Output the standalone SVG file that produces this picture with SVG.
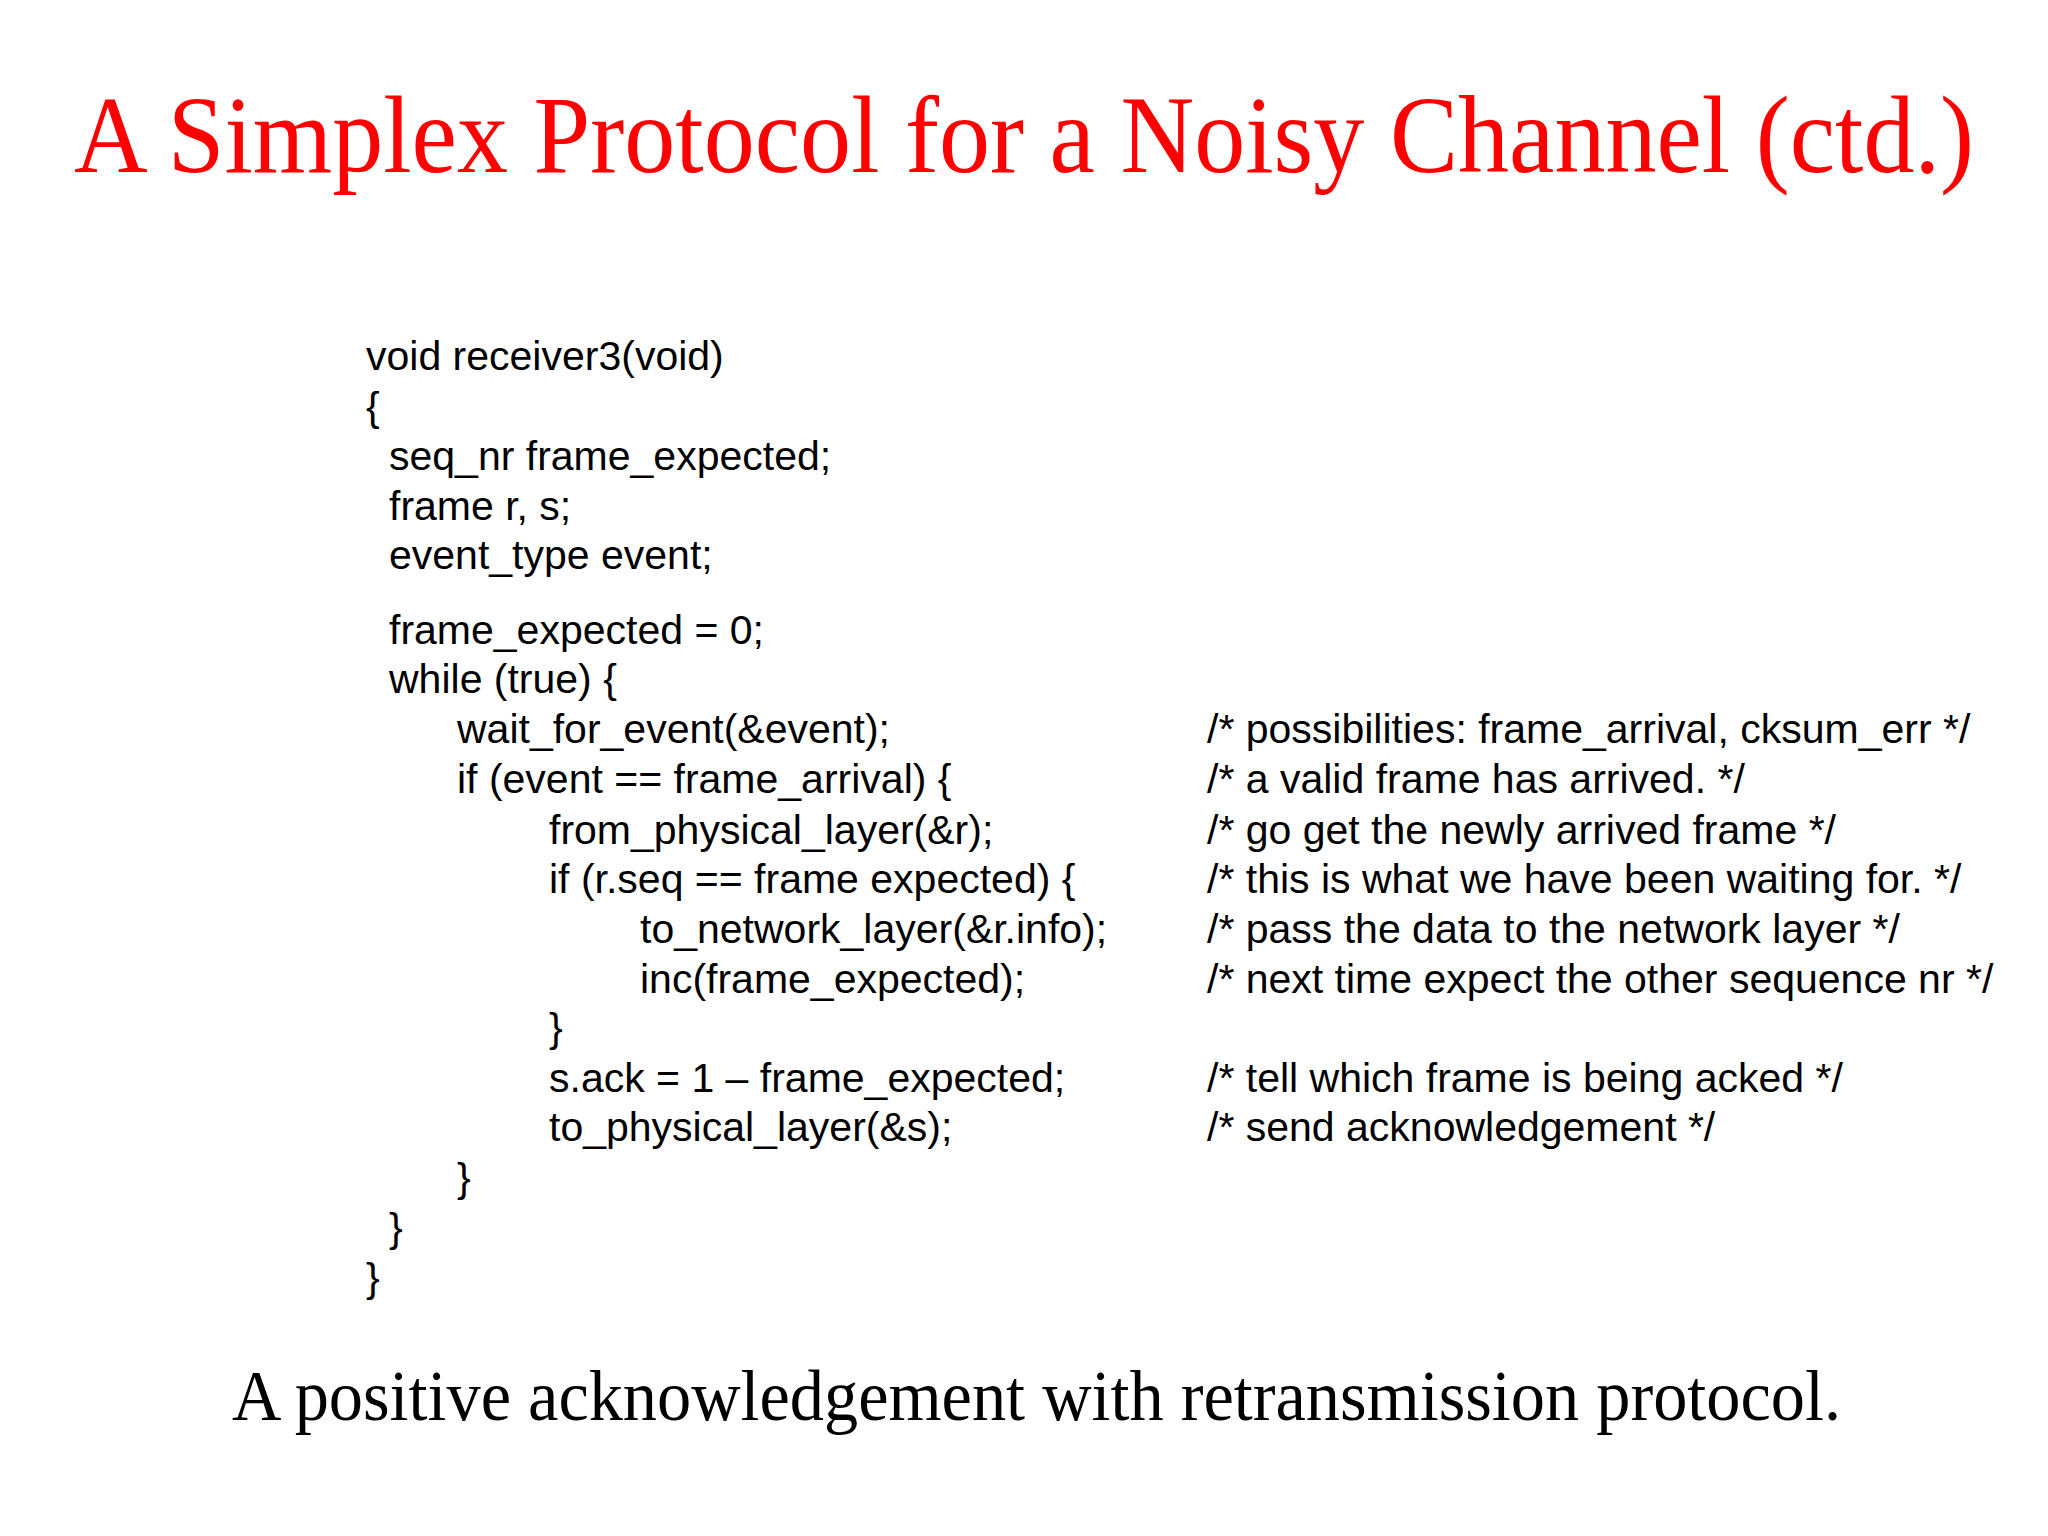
<svg xmlns="http://www.w3.org/2000/svg" width="2048" height="1536" viewBox="0 0 2048 1536">
<style>
.t{font-family:"Liberation Serif","Times New Roman",serif;fill:#ff0000}
.c{font-family:"Liberation Sans",Arial,sans-serif;font-size:41px;fill:#000;white-space:pre}
.cap{font-family:"Liberation Serif","Times New Roman",serif;fill:#000}
</style>
<rect width="2048" height="1536" fill="#fff"/>
<text class="t" x="74" y="172" font-size="110" textLength="1900" lengthAdjust="spacingAndGlyphs">A Simplex Protocol for a Noisy Channel (ctd.)</text>
<g id="code" class="c" xml:space="preserve">
<text x="366" y="370">void receiver3(void)</text>
<text x="366" y="421">{</text>
<text x="389" y="470">seq_nr frame_expected;</text>
<text x="389" y="520">frame r, s;</text>
<text x="389" y="569">event_type event;</text>
<text x="389" y="644">frame_expected = 0;</text>
<text x="389" y="693">while (true) {</text>
<text x="457" y="743">wait_for_event(&amp;event);</text>
<text x="457" y="793">if (event == frame_arrival) {</text>
<text x="549" y="844">from_physical_layer(&amp;r);</text>
<text x="549" y="893">if (r.seq == frame  expected) {</text>
<text x="640" y="943">to_network_layer(&amp;r.info);</text>
<text x="640" y="993">inc(frame_expected);</text>
<text x="549" y="1042">}</text>
<text x="549" y="1092">s.ack = 1 – frame_expected;</text>
<text x="549" y="1141">to_physical_layer(&amp;s);</text>
<text x="457" y="1192">}</text>
<text x="389" y="1242">}</text>
<text x="366" y="1292">}</text>
</g>
<g id="comments" class="c">
<text x="1207" y="743">/* possibilities: frame_arrival, cksum_err */</text>
<text x="1207" y="793">/* a valid frame has arrived. */</text>
<text x="1207" y="844">/* go get the newly arrived frame */</text>
<text x="1207" y="893">/* this is what we have been waiting for. */</text>
<text x="1207" y="943">/* pass the data to the network layer */</text>
<text x="1207" y="993">/* next time expect the other sequence nr */</text>
<text x="1207" y="1092">/* tell which frame is being acked */</text>
<text x="1207" y="1141">/* send acknowledgement */</text>
</g>
<text class="cap" x="232" y="1420" font-size="72" textLength="1609" lengthAdjust="spacingAndGlyphs">A positive acknowledgement with retransmission protocol.</text>
</svg>
